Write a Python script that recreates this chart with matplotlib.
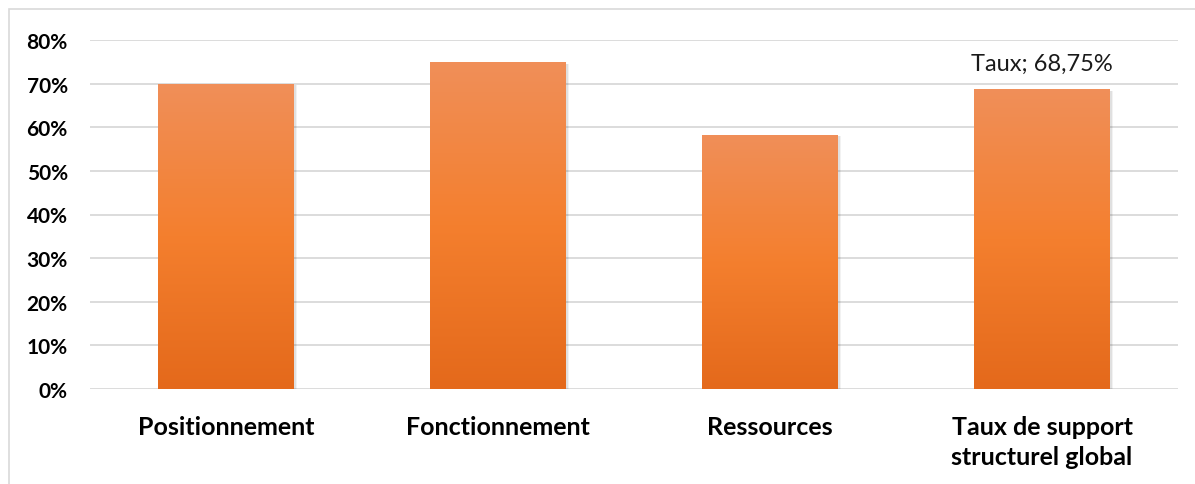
import matplotlib.pyplot as plt
import numpy as np
from matplotlib.colors import LinearSegmentedColormap
from matplotlib.patches import Rectangle

categories = ['Positionnement', 'Fonctionnement', 'Ressources',
              'Taux de support\nstructurel global']
taux = [0.70, 0.75, 0.5833, 0.6875]
yticks = [0.0, 0.1, 0.2, 0.3, 0.4, 0.5, 0.6, 0.7, 0.8]
label_text = 'Taux; 68,75%'

plt.rcParams['font.family'] = ['Lato', 'DejaVu Sans']

fig = plt.figure(figsize=(11.95, 4.85), dpi=100)
ax = fig.add_axes([90 / 1195, 95 / 485, 1088 / 1195, 349 / 485])

# light frame around the chart area
fig.patches.append(Rectangle((9 / 1195, -0.05), 1.1, (485 - 10) / 485 + 0.05,
                             transform=fig.transFigure, fill=False,
                             edgecolor='#D9D9D9', linewidth=1.2))

x = np.arange(len(categories))

# soft shadow behind bars
for dx, a in [(0.012, 0.05), (0.006, 0.07)]:
    ax.bar(x + dx / 2, taux, width=0.5 + dx, bottom=-0.004,
           color='#000000', alpha=a, zorder=2, linewidth=0)

bars = ax.bar(x, taux, width=0.5, color='none', linewidth=0, zorder=3)

cmap = LinearSegmentedColormap.from_list('orange', ['#E4691B', '#F47F2E', '#F08F59'])
gradient = np.linspace(0, 1, 256).reshape(-1, 1)
for b in bars:
    x0, w, h = b.get_x(), b.get_width(), b.get_height()
    im = ax.imshow(gradient, cmap=cmap, origin='lower', aspect='auto',
                   extent=[x0, x0 + w, 0, h], zorder=3)
    im.set_clip_path(b)

ax.annotate(label_text, (x[3], taux[3]), xytext=(0, 11), textcoords='offset points',
            ha='center', va='bottom', fontsize=17, color='#1a1a1a')

ax.set_xlim(-0.5, 3.5)
ax.set_ylim(0, 0.8)
ax.set_yticks(yticks)
ax.set_yticklabels([f'{int(round(v * 100))}%' for v in yticks],
                   fontsize=15, fontweight='bold')
ax.set_xticks(x)
ax.set_xticklabels(categories, fontsize=18, fontweight='bold', linespacing=1.35)
ax.tick_params(axis='y', length=0, pad=16)
ax.tick_params(axis='x', length=0, pad=19)

ax.grid(axis='y', color='#D9D9D9', linewidth=1.3, zorder=0)
ax.set_axisbelow(True)
for s in ax.spines.values():
    s.set_visible(False)

fig.savefig('out.png', dpi=100)
